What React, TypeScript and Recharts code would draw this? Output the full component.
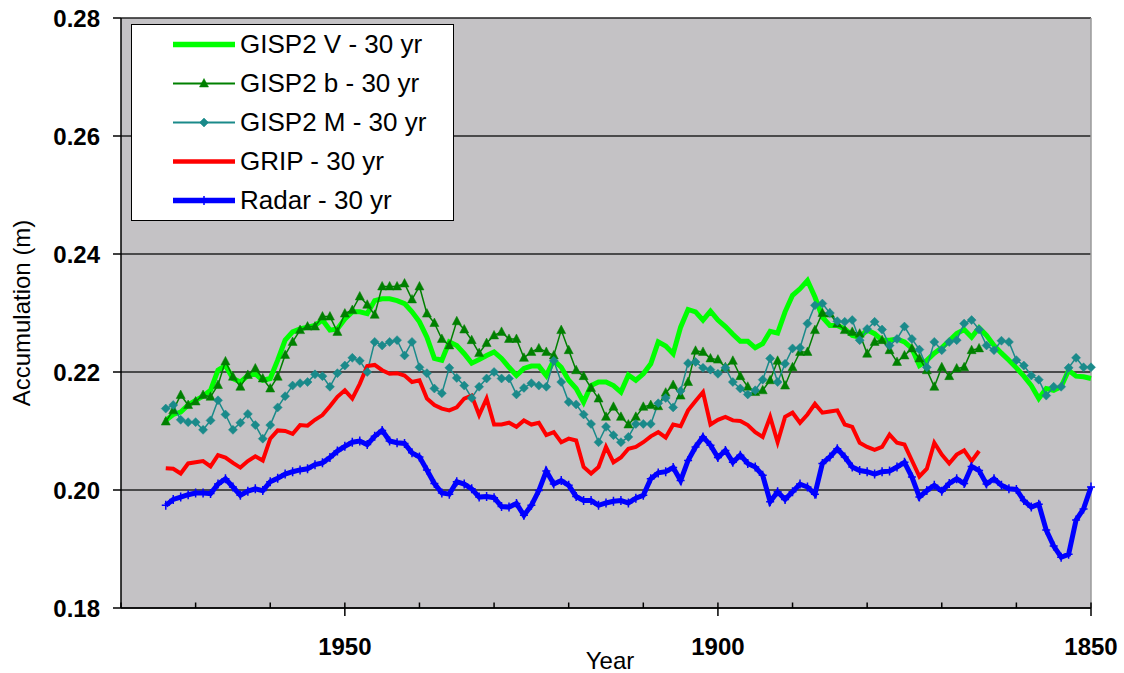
import React from 'react';
import {
  LineChart,
  Line,
  XAxis,
  YAxis,
  CartesianGrid,
  Legend,
  ReferenceLine,
} from 'recharts';

const FONT = '"Liberation Sans", Arial, sans-serif';

// years run from 1974 (left) back to 1850 (right)
const years = [
  1974, 1973, 1972, 1971, 1970, 1969, 1968, 1967, 1966, 1965,
  1964, 1963, 1962, 1961, 1960, 1959, 1958, 1957, 1956, 1955,
  1954, 1953, 1952, 1951, 1950, 1949, 1948, 1947, 1946, 1945,
  1944, 1943, 1942, 1941, 1940, 1939, 1938, 1937, 1936, 1935,
  1934, 1933, 1932, 1931, 1930, 1929, 1928, 1927, 1926, 1925,
  1924, 1923, 1922, 1921, 1920, 1919, 1918, 1917, 1916, 1915,
  1914, 1913, 1912, 1911, 1910, 1909, 1908, 1907, 1906, 1905,
  1904, 1903, 1902, 1901, 1900, 1899, 1898, 1897, 1896, 1895,
  1894, 1893, 1892, 1891, 1890, 1889, 1888, 1887, 1886, 1885,
  1884, 1883, 1882, 1881, 1880, 1879, 1878, 1877, 1876, 1875,
  1874, 1873, 1872, 1871, 1870, 1869, 1868, 1867, 1866, 1865,
  1864, 1863, 1862, 1861, 1860, 1859, 1858, 1857, 1856, 1855,
  1854, 1853, 1852, 1851, 1850,
];

const gispV = [
  0.2118, 0.2128, 0.2132, 0.2144, 0.2152, 0.2159, 0.2169, 0.2203, 0.2211, 0.2189,
  0.2183, 0.2194, 0.2197, 0.2186, 0.2189, 0.222, 0.2254, 0.2268, 0.2273, 0.2276,
  0.2279, 0.2288, 0.2271, 0.2273, 0.229, 0.2302, 0.2302, 0.2299, 0.2321, 0.2324,
  0.2324, 0.2321, 0.2316, 0.2302, 0.2285, 0.2259, 0.2223, 0.222, 0.2251, 0.2245,
  0.2231, 0.2215, 0.2221, 0.2228, 0.2234, 0.2223, 0.2208, 0.2194, 0.2206, 0.221,
  0.221, 0.2194, 0.222, 0.2208, 0.2186, 0.2172, 0.2149, 0.2177, 0.2183, 0.2183,
  0.2177, 0.2166, 0.2195, 0.2186, 0.2197, 0.2214, 0.2251, 0.2244, 0.2231, 0.2276,
  0.2306, 0.2302, 0.2288, 0.2303, 0.2288, 0.2277, 0.2264, 0.2252, 0.2252, 0.2241,
  0.2248, 0.2269, 0.2266, 0.2302, 0.233, 0.2341, 0.2355, 0.2327, 0.2293, 0.2279,
  0.2279, 0.2273, 0.2262, 0.2259, 0.2271, 0.2265, 0.2254, 0.2254, 0.2256, 0.2251,
  0.224, 0.2211, 0.222, 0.2232, 0.2241, 0.2253, 0.2265, 0.2272, 0.2259, 0.2275,
  0.2262, 0.2245, 0.2232, 0.222, 0.2207, 0.2193, 0.2177, 0.2155, 0.2172, 0.2169,
  0.2175, 0.2203, 0.2193, 0.2192, 0.2189,
];

// GISP2 b stops at 1865
const gispB = [
  0.2116, 0.2135, 0.2161, 0.2144, 0.215, 0.2161, 0.2158, 0.2178, 0.2218, 0.2192,
  0.2175, 0.2195, 0.2206, 0.2189, 0.2172, 0.2192, 0.2229, 0.2251, 0.2271, 0.2277,
  0.2277, 0.2294, 0.2294, 0.2268, 0.2299, 0.2305, 0.2328, 0.2314, 0.2297, 0.2345,
  0.2345, 0.2345, 0.235, 0.2323, 0.2345, 0.2299, 0.2283, 0.2256, 0.2245, 0.2286,
  0.2272, 0.2254, 0.2232, 0.2249, 0.2262, 0.2268, 0.2256, 0.2256, 0.2224, 0.2234,
  0.224, 0.2234, 0.2228, 0.2271, 0.2237, 0.2203, 0.2193, 0.2173, 0.2155, 0.2124,
  0.2141, 0.2124, 0.2111, 0.2124, 0.2141, 0.2144, 0.2142, 0.2165, 0.2178, 0.216,
  0.2183, 0.2236, 0.2234, 0.2223, 0.2221, 0.2208, 0.2219, 0.2193, 0.2175, 0.2166,
  0.2169, 0.2186, 0.2219, 0.2177, 0.2208, 0.2234, 0.2234, 0.2271, 0.23, 0.2299,
  0.2282, 0.2271, 0.2268, 0.2265, 0.2231, 0.2251, 0.2254, 0.2237, 0.2217, 0.2228,
  0.224, 0.2223, 0.2203, 0.2175, 0.2208, 0.2193, 0.2206, 0.2208, 0.2237, 0.224,
];

const gispM = [
  0.2138, 0.2144, 0.2119, 0.2115, 0.2115, 0.2102, 0.2118, 0.2152, 0.2128, 0.2102,
  0.2114, 0.2129, 0.211, 0.2087, 0.211, 0.214, 0.2159, 0.2177, 0.2181, 0.2183,
  0.2196, 0.2193, 0.2175, 0.2198, 0.2211, 0.2224, 0.2219, 0.22, 0.2251, 0.2245,
  0.2251, 0.2254, 0.2228, 0.2251, 0.2208, 0.2198, 0.2172, 0.2164, 0.2207, 0.219,
  0.2177, 0.2156, 0.2175, 0.2189, 0.22, 0.2189, 0.2189, 0.2162, 0.2173, 0.2181,
  0.2177, 0.2175, 0.2219, 0.2183, 0.2149, 0.2145, 0.2128, 0.2112, 0.2081, 0.2107,
  0.2093, 0.2081, 0.209, 0.2112, 0.2112, 0.2112, 0.2147, 0.2156, 0.214, 0.2168,
  0.2215, 0.2217, 0.2207, 0.2204, 0.2197, 0.2207, 0.2183, 0.2172, 0.2162, 0.2169,
  0.2187, 0.2223, 0.2183, 0.2214, 0.224, 0.2241, 0.2282, 0.2313, 0.2316, 0.23,
  0.2286, 0.2285, 0.2288, 0.2254, 0.2273, 0.2285, 0.2272, 0.2245, 0.2256, 0.2277,
  0.2256, 0.2238, 0.2208, 0.2251, 0.2237, 0.2251, 0.2254, 0.2282, 0.2288, 0.2272,
  0.2245, 0.2237, 0.2253, 0.2251, 0.222, 0.2211, 0.2194, 0.2187, 0.216, 0.2175,
  0.2175, 0.2207, 0.2224, 0.2208, 0.2208,
];

// GRIP stops at 1865
const grip = [
  0.2037, 0.2036, 0.2028, 0.2045, 0.2047, 0.2049, 0.204, 0.2059, 0.2055, 0.2046,
  0.2038, 0.2049, 0.2057, 0.205, 0.2087, 0.2101, 0.21, 0.2095, 0.211, 0.2109,
  0.2119, 0.2127, 0.2142, 0.2158, 0.2169, 0.2155, 0.218, 0.221, 0.2212, 0.2203,
  0.2197, 0.2198, 0.2194, 0.2183, 0.2186, 0.2155, 0.2144, 0.2138, 0.2135, 0.214,
  0.2155, 0.216, 0.2127, 0.2155, 0.2111, 0.2111, 0.2114, 0.2107, 0.2118, 0.2111,
  0.2114, 0.2093, 0.2098, 0.2081, 0.2087, 0.2084, 0.2039, 0.2028, 0.2039, 0.2073,
  0.2047, 0.2055, 0.207, 0.2073, 0.2081, 0.2091, 0.2098, 0.2089, 0.2111, 0.2108,
  0.2135, 0.2151, 0.2166, 0.2111, 0.2119, 0.2124, 0.2118, 0.2117, 0.211, 0.2098,
  0.209, 0.2124, 0.2081, 0.2124, 0.2131, 0.2114, 0.2128, 0.2146, 0.2131, 0.2133,
  0.2135, 0.2111, 0.2107, 0.208, 0.2073, 0.2068, 0.2073, 0.2094, 0.208, 0.2077,
  0.205, 0.2023, 0.2036, 0.208, 0.206, 0.2045, 0.206, 0.2067, 0.2049, 0.2066,
];

const radar = [
  0.1974, 0.1984, 0.1988, 0.1992, 0.1995, 0.1995, 0.1994, 0.201, 0.2019, 0.2005,
  0.1991, 0.1998, 0.2002, 0.1999, 0.2014, 0.202, 0.2027, 0.2031, 0.2034, 0.2036,
  0.2043, 0.2046, 0.2055, 0.2066, 0.2074, 0.2081, 0.2083, 0.2077, 0.2091, 0.2101,
  0.2083, 0.208, 0.2079, 0.2063, 0.2056, 0.2034, 0.2011, 0.1995, 0.1993, 0.2014,
  0.201, 0.2002, 0.1988, 0.1989, 0.1987, 0.1972, 0.1971, 0.1977, 0.1957, 0.1974,
  0.1999, 0.2032, 0.201, 0.2016, 0.2008, 0.1989, 0.1982, 0.1982, 0.1974, 0.1978,
  0.1981, 0.1982, 0.1978, 0.1986, 0.1991, 0.2019, 0.2029, 0.2031, 0.2038, 0.2016,
  0.205, 0.2073, 0.209, 0.2076, 0.2055, 0.2067, 0.2047, 0.2059, 0.2045, 0.2039,
  0.2025, 0.198, 0.1997, 0.1984, 0.1997, 0.201, 0.2005, 0.1993, 0.2045, 0.2056,
  0.207, 0.2056, 0.2039, 0.2033, 0.2031, 0.2027, 0.2031, 0.2032, 0.2039, 0.2047,
  0.2022, 0.1988, 0.1999, 0.2008, 0.1998, 0.2011, 0.2019, 0.2011, 0.204, 0.2033,
  0.201, 0.2019, 0.2008, 0.2002, 0.2001, 0.1982, 0.1971, 0.1976, 0.1932, 0.1905,
  0.1886, 0.1891, 0.1949, 0.1968, 0.2005,
];

const yearTicks = [1980, 1970, 1960, 1950, 1940, 1930, 1920, 1910, 1900, 1890, 1880, 1870, 1860, 1850];
const accTicks = [0.18, 0.2, 0.22, 0.24, 0.26, 0.28];

const rows = years.map((year, i) => ({
  year,
  gispV: gispV[i] ?? null,
  gispB: gispB[i] ?? null,
  gispM: gispM[i] ?? null,
  grip: grip[i] ?? null,
  radar: radar[i] ?? null,
}));

const SERIES = [
  { key: 'gispV', name: 'GISP2 V - 30 yr', color: '#00ff00', width: 5, marker: 'none' },
  { key: 'gispB', name: 'GISP2 b - 30 yr', color: '#008000', width: 1.5, marker: 'triangle' },
  { key: 'gispM', name: 'GISP2 M - 30 yr', color: '#1a8a8a', width: 1.5, marker: 'diamond' },
  { key: 'grip', name: 'GRIP - 30 yr', color: '#ff0000', width: 4, marker: 'none' },
  { key: 'radar', name: 'Radar - 30 yr', color: '#0000ff', width: 5, marker: 'plus' },
];

const drawMarker = (type: string, cx: number, cy: number, color: string, key?: any) => {
  if (type === 'triangle') {
    return (
      <polygon key={key} points={`${cx},${cy - 5} ${cx - 4.5},${cy + 3.5} ${cx + 4.5},${cy + 3.5}`} fill={color} stroke={color} strokeWidth={0.5} />
    );
  }
  if (type === 'diamond') {
    return (
      <polygon key={key} points={`${cx},${cy - 4.5} ${cx + 4.5},${cy} ${cx},${cy + 4.5} ${cx - 4.5},${cy}`} fill={color} stroke={color} strokeWidth={0.5} />
    );
  }
  if (type === 'plus') {
    return (
      <path key={key} d={`M${cx - 4},${cy}h8M${cx},${cy - 4.5}v9`} stroke={color} strokeWidth={1.5} fill="none" />
    );
  }
  return <g key={key} />;
};

const makeDot = (type: string, color: string) => (props: any) => {
  const { cx, cy, index } = props;
  if (cx == null || cy == null || props.value == null) return <g key={`d-${index}`} />;
  return drawMarker(type, cx, cy, color, `d-${index}`);
};

const YearTick = (props: any) => {
  const { x, y, payload } = props;
  const major = payload.value % 50 === 0;
  return (
    <g>
      <line x1={x} x2={x} y1={y - 5.5} y2={major ? y + 8 : y} stroke="#000" strokeWidth={1.5} />
      {major && (
        <text x={x} y={y + 47} textAnchor="middle" fill="#000" fontSize={24} fontWeight={700} fontFamily={FONT}>
          {payload.value}
        </text>
      )}
    </g>
  );
};

const LegendBox = () => (
  <div
    style={{
      width: 321,
      height: 195,
      background: '#fff',
      border: '1.5px solid #000',
      fontFamily: FONT,
      fontSize: 26,
      color: '#000',
      boxSizing: 'content-box',
    }}
  >
    {SERIES.map((s) => (
      <div key={s.key} style={{ height: 39, display: 'flex', alignItems: 'center' }}>
        <svg width={108} height={39} style={{ flex: 'none' }}>
          <line x1={41} x2={103} y1={19.5} y2={19.5} stroke={s.color} strokeWidth={s.width + 0.5} />
          {s.marker !== 'none' && drawMarker(s.marker, 72, 19.5, s.color)}
        </svg>
        <span style={{ whiteSpace: 'nowrap' }}>{s.name}</span>
      </div>
    ))}
  </div>
);

export default function App() {
  return (
    <div style={{ position: 'absolute', left: 0, top: 0, background: '#fff' }}>
      <LineChart width={1124} height={673} data={rows} margin={{ top: 18, right: 33, bottom: 0, left: 0 }}>
        <CartesianGrid horizontal vertical={false} stroke="#222" strokeWidth={1.5} fill="#c4c2c5" fillOpacity={1} />
        <XAxis
          dataKey="year"
          type="number"
          domain={[1850, 1980]}
          reversed
          ticks={yearTicks}
          interval={0}
          height={65}
          tickLine={false}
          tickSize={0}
          tickMargin={0}
          tick={<YearTick />}
          axisLine={{ stroke: '#000', strokeWidth: 1.5 }}
          label={{ value: 'Year', position: 'insideBottom', offset: 4, dx: 4, fontSize: 24, fill: '#000', fontFamily: FONT }}
        />
        <YAxis
          type="number"
          domain={[0.18, 0.28]}
          ticks={accTicks}
          width={121}
          tickSize={8}
          tickMargin={13}
          tickFormatter={(v: number) => v.toFixed(2)}
          tick={{ fill: '#000', fontSize: 24, fontWeight: 700, fontFamily: FONT }}
          tickLine={{ stroke: '#000', strokeWidth: 1.5 }}
          axisLine={{ stroke: '#000', strokeWidth: 1.5 }}
          label={{
            content: (p: any) => {
              const vb = p.viewBox || { x: 0, y: 18, width: 121, height: 590 };
              const cx = vb.x + 30;
              const cy = vb.y + vb.height / 2;
              return (
                <text x={cx} y={cy} transform={`rotate(-90, ${cx}, ${cy})`} textAnchor="middle" fontSize={24} fill="#000" fontFamily={FONT}>
                  Accumulation (m)
                </text>
              );
            },
          }}
        />
        <ReferenceLine x={1850} stroke="#9a9a9a" strokeWidth={1.5} />
        <Legend
          layout="vertical"
          align="center"
          verticalAlign="middle"
          content={<LegendBox />}
          wrapperStyle={{ left: 131, top: 24, width: 325, height: 200 }}
        />
        {SERIES.map((s) => (
          <Line
            key={s.key}
            dataKey={s.key}
            name={s.name}
            type="linear"
            stroke={s.color}
            strokeWidth={s.width}
            dot={s.marker === 'none' ? false : makeDot(s.marker, s.color)}
            activeDot={false}
            isAnimationActive={false}
            connectNulls={false}
          />
        ))}
      </LineChart>
    </div>
  );
}
